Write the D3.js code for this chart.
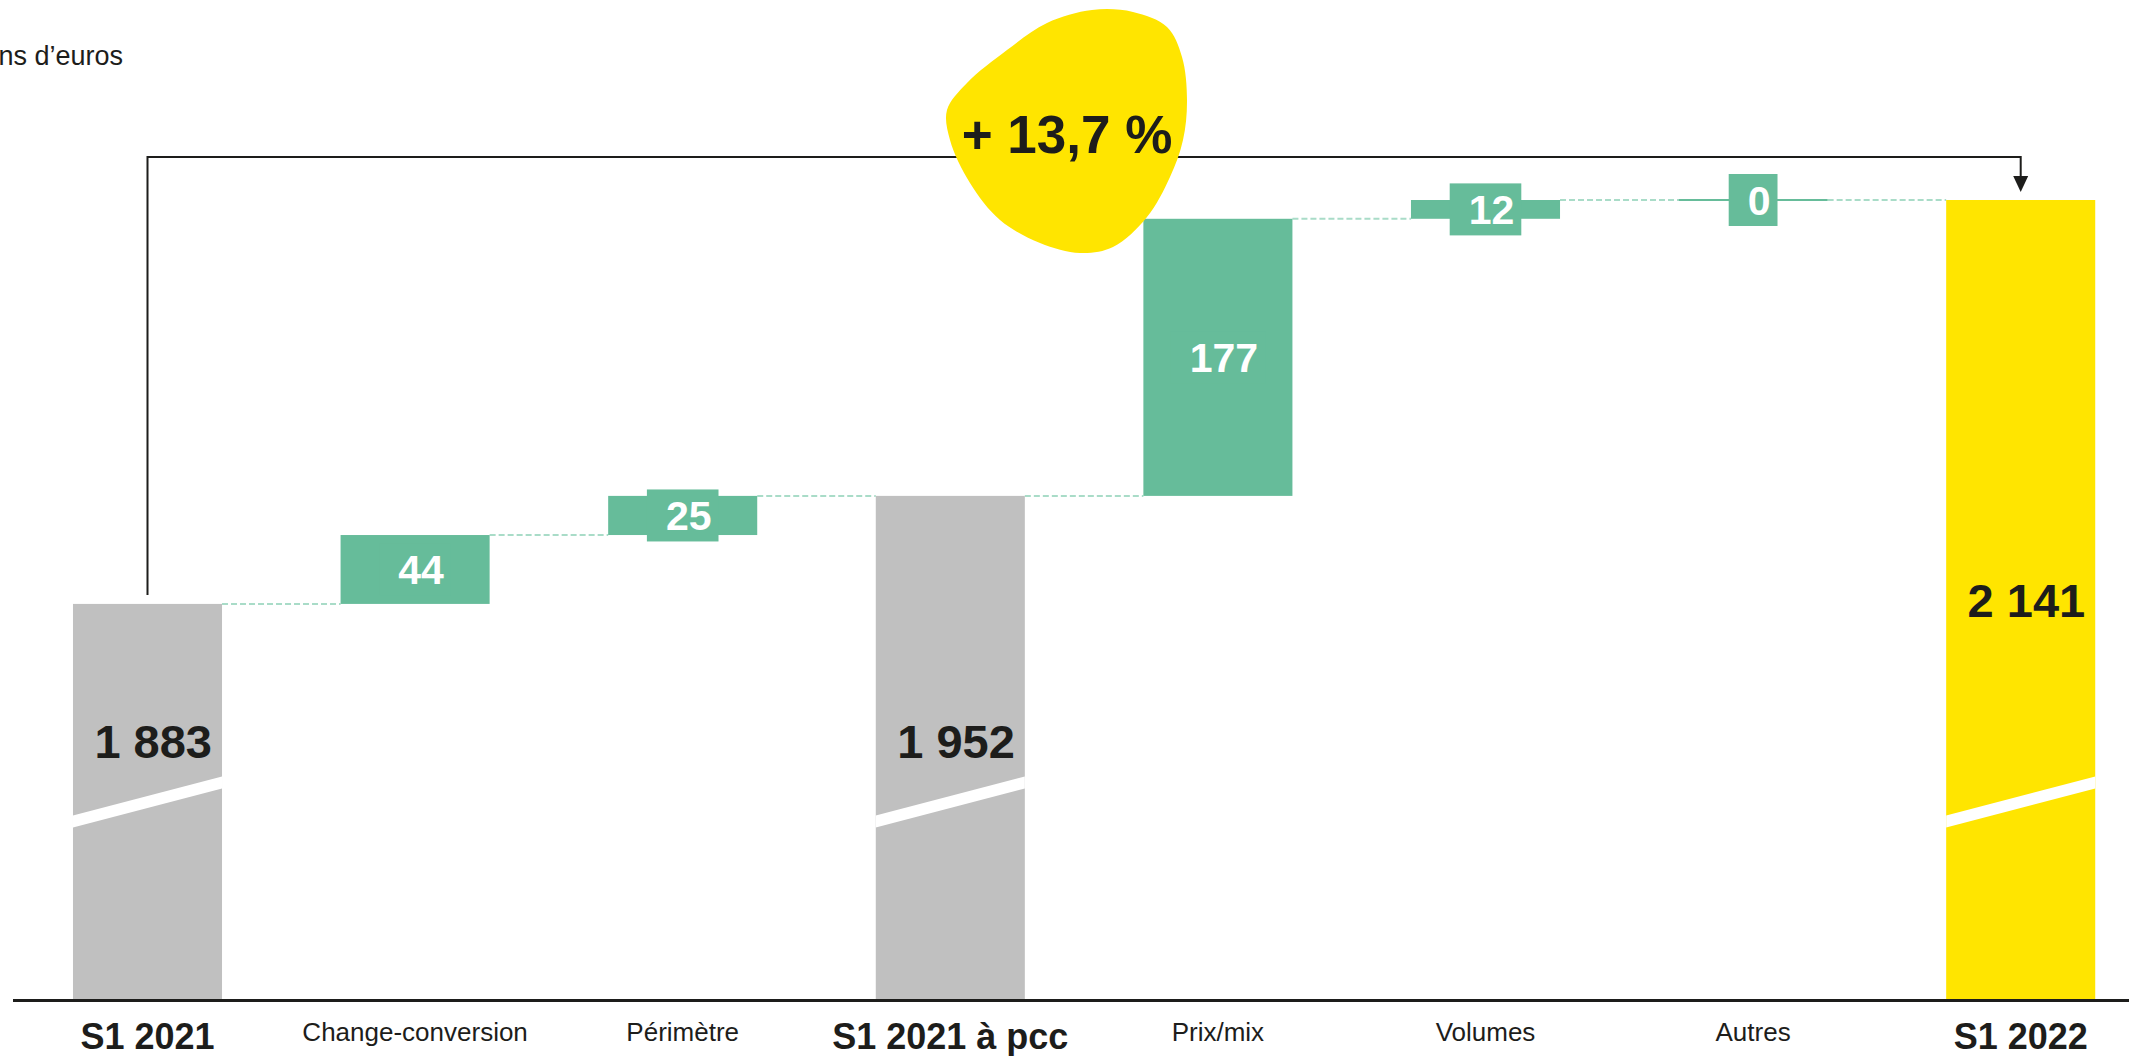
<!DOCTYPE html>
<html lang="fr">
<head>
<meta charset="utf-8">
<title>Chiffre d'affaires S1 2021 – S1 2022</title>
<script src="https://cdn.jsdelivr.net/npm/d3@7"></script>
<style>
  html, body { margin: 0; padding: 0; background: #ffffff; overflow: hidden; }
  svg { display: block; font-family: "Liberation Sans", Arial, Helvetica, sans-serif; }
</style>
</head>
<body>
<svg id="chart" width="2129" height="1056"></svg>
<script>
// ---- Data -------------------------------------------------------------
const categories = ["S1 2021", "Change-conversion", "Périmètre", "S1 2021 à pcc", "Prix/mix", "Volumes", "Autres", "S1 2022"];
const kinds      = ["total", "delta", "delta", "total", "delta", "delta", "delta", "total"];
const values     = [1883, 44, 25, 1952, 177, 12, 0, 2141];
const unitLabel  = "En millions d’euros";
const growthLabel = "+ 13,7 %";
// lowest value shown above the axis line (the total bars are drawn with a break)
const axisFloor  = 1630;

// ---- Styling ----------------------------------------------------------
const GREEN = "#66bc9a", GREEN_LIGHT = "#a9dcc8", GREY = "#c0c0c0", YELLOW = "#ffe500", INK = "#1d1d1b";
const totalFill = { "S1 2021": GREY, "S1 2021 à pcc": GREY, "S1 2022": YELLOW };

const svg = d3.select("#chart");
const axisY = 1000;

const fr = d3.formatLocale({ decimal: ",", thousands: " ", grouping: [3], currency: ["", " €"] });
const fmt = fr.format(",d");

// ---- Scales -----------------------------------------------------------
const x = d3.scaleBand()
  .domain(categories)
  .range([13.7, 2154.5])
  .paddingInner(0.443)
  .paddingOuter(0.2215);

const y = d3.scaleLinear()
  .domain([axisFloor, d3.max(values)])
  .range([axisY, 200]);

// Waterfall layout: start / end of each bar
let running = 0;
const bars = categories.map((c, i) => {
  let start, end;
  if (kinds[i] === "total") { start = axisFloor; end = values[i]; running = values[i]; }
  else { start = running; end = running + values[i]; running = end; }
  return { cat: c, kind: kinds[i], value: values[i], start, end, level: running };
});

// ---- Growth bracket (drawn below the blob) ---------------------------
const first = bars[0], last = bars[bars.length - 1];
const bx0 = x(first.cat) + x.bandwidth() / 2;
const bx1 = x(last.cat) + x.bandwidth() / 2;
const bracketY = 157;
svg.append("path")
  .attr("d", d3.line()([[bx0, y(first.end) - 9], [bx0, bracketY], [bx1, bracketY], [bx1, y(last.end) - 22]]))
  .attr("fill", "none").attr("stroke", INK).attr("stroke-width", 2);
svg.append("path")
  .attr("d", d3.line()([[bx1 - 7.5, y(last.end) - 24], [bx1 + 7.5, y(last.end) - 24], [bx1, y(last.end) - 8]]) + "Z")
  .attr("fill", INK);

// ---- Connectors between bars -----------------------------------------
const conn = svg.append("g");
for (let i = 0; i < bars.length - 1; i++) {
  const lv = y(bars[i].level);
  conn.append("line")
    .attr("x1", x(bars[i].cat) + x.bandwidth())
    .attr("x2", x(bars[i + 1].cat))
    .attr("y1", lv).attr("y2", lv)
    .attr("stroke", GREEN_LIGHT).attr("stroke-width", 2)
    .attr("stroke-dasharray", "6,3");
}

// ---- Bars -------------------------------------------------------------
const g = svg.append("g");
bars.forEach(b => {
  const x0 = x(b.cat), w = x.bandwidth();
  const top = y(Math.max(b.start, b.end)), bot = y(Math.min(b.start, b.end));
  if (b.kind === "total") {
    g.append("rect").attr("x", x0).attr("y", top).attr("width", w).attr("height", axisY - top)
      .attr("fill", totalFill[b.cat]);
    // axis break band
    g.append("path")
      .attr("d", d3.line()([[x0, 815.5], [x0 + w, 776.5], [x0 + w, 788.5], [x0, 827.5]]) + "Z")
      .attr("fill", "#ffffff");
    const mid = (top + axisY) / 2;
    g.append("text")
      .attr("x", x0 + w - 10)
      .attr("y", Math.min(mid + 17, 758))
      .attr("text-anchor", "end")
      .attr("font-size", 47).attr("font-weight", "bold").attr("fill", INK)
      .text(fmt(b.value));
  } else {
    const h = Math.max(bot - top, 2);
    const cy = (top + bot) / 2;
    g.append("rect").attr("x", x0).attr("y", cy - h / 2).attr("width", w).attr("height", h)
      .attr("fill", GREEN);
    const t = g.append("text")
      .attr("x", x0 + w / 2 + 6)
      .attr("y", cy)
      .attr("dy", "0.36em")
      .attr("text-anchor", "middle")
      .attr("font-size", 41).attr("font-weight", "bold").attr("fill", "#ffffff")
      .text(fmt(b.value));
    const tw = t.node().getComputedTextLength();
    g.insert("rect", () => t.node())
      .attr("x", x0 + w / 2 - (tw + 26) / 2).attr("y", cy - 26)
      .attr("width", tw + 26).attr("height", 52)
      .attr("fill", GREEN);
  }
});

// ---- Axis line and category labels ------------------------------------
svg.append("line")
  .attr("x1", 13).attr("x2", 2129).attr("y1", axisY + 0.5).attr("y2", axisY + 0.5)
  .attr("stroke", INK).attr("stroke-width", 3);

svg.append("g").selectAll("text")
  .data(bars)
  .join("text")
  .attr("x", d => x(d.cat) + x.bandwidth() / 2)
  .attr("y", d => d.kind === "total" ? 1049 : 1041)
  .attr("text-anchor", "middle")
  .attr("font-size", d => d.kind === "total" ? 36 : 26)
  .attr("font-weight", d => d.kind === "total" ? "bold" : "normal")
  .attr("fill", INK)
  .text(d => d.cat);

// ---- Unit label (runs off the left edge of the page) -------------------
svg.append("text")
  .attr("x", 123).attr("y", 65)
  .attr("text-anchor", "end")
  .attr("font-size", 27).attr("fill", INK)
  .text(unitLabel);

// ---- Growth badge -----------------------------------------------------
const blob = [[1092, 10], [1133, 12], [1167, 27], [1182, 57], [1187, 100], [1183, 140], [1170, 177],
  [1147, 217], [1113, 247], [1080, 253], [1040, 243], [1000, 220], [970, 183], [950, 140],
  [947, 110], [967, 83], [1007, 50], [1047, 23]];
svg.append("path")
  .attr("d", d3.line().curve(d3.curveCatmullRomClosed.alpha(0.5))(blob))
  .attr("fill", YELLOW);
svg.append("text")
  .attr("x", 1067).attr("y", 153)
  .attr("text-anchor", "middle")
  .attr("font-size", 53).attr("font-weight", "bold").attr("fill", INK)
  .text(growthLabel);
</script>
</body>
</html>
